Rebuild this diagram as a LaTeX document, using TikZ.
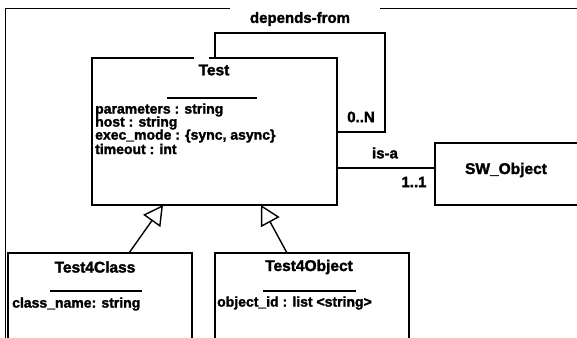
\documentclass[tikz,border=0pt]{standalone}
\usepackage{fontspec}
\setmainfont{Liberation Sans}[BoldFeatures={FakeBold=1.8}]
\usetikzlibrary{arrows.meta,calc}
\tikzset{
  frameline/.style={line width=1pt},
  cls/.style={draw, line width=1.5pt, inner sep=0pt, outer sep=0pt},
  ttl/.style={font=\fontsize{15.5}{15.5}\selectfont\bfseries, inner sep=0pt},
  attr/.style={font=\fontsize{14}{14}\selectfont\bfseries, inner sep=0pt, anchor=west},
  lbl/.style={font=\fontsize{15}{15}\selectfont\bfseries, inner sep=0pt},
  divider/.style={line width=1.8pt},
  conn/.style={line width=1.4pt},
  inh/.style={line width=1.4pt, -{Triangle[open, length=13pt, width=14pt, fill=white, scale=1.5]}},
}
\begin{document}
\begin{tikzpicture}[x=1pt,y=-1pt]
\useasboundingbox (0,0) rectangle (577,337);
% frame
\draw[frameline] (230,9) -- (5,9) -- (5,345);
\draw[frameline] (380,9) -- (590,9);
\node[lbl] (dep) at (300,19) {depends-from};
% classes
\node[cls, minimum width=245pt, minimum height=147pt] (Test) at (214.5,131.5) {};
\node[cls, minimum width=143pt, minimum height=62pt] (SW) at (506.5,174) {};
\node[cls, minimum width=184pt, minimum height=107pt] (T4C) at (100,306.5) {};
\node[cls, minimum width=194pt, minimum height=107pt] (T4O) at (312,306.5) {};
\draw[white, line width=2pt] (194,58) -- (209,58);
% Test content
\node[ttl] (tT) at (214,70) {Test};
\coordinate (tDa) at (167,98); \coordinate (tDb) at (257,98);
\draw[divider] (tDa) -- (tDb);
\node[attr] (a1) at (95,110) {parameters : string};
\node[attr] (a2) at (95,123) {host : string};
\node[attr] (a3) at (95,136) {exec\_mode : \{sync, async\}};
\node[attr] (a4) at (95,149) {timeout : int};
% SW_Object
\node[ttl] (swT) at (506,170) {SW\_Object};
% Test4Class
\node[ttl] (cT) at (95,267) {Test4Class};
\coordinate (cDa) at (50,291); \coordinate (cDb) at (142,291);
\draw[divider] (cDa) -- (cDb);
\node[attr] (c1) at (12,304) {class\_name: string};
% Test4Object
\node[ttl] (oT) at (309,267) {Test4Object};
\coordinate (oDa) at (263,291); \coordinate (oDb) at (356,291);
\draw[divider] (oDa) -- (oDb);
\node[attr] (o1) at (217,303) {object\_id : list <string>};
% self association
\coordinate (lp1) at (385,33);
\coordinate (lp2) at (385,132);
\draw[conn] ([xshift=0.5pt]Test.north) |- (lp1) -- (lp2) -- (lp2 -| Test.east);
\node[lbl] (zn) at (361,117) {0..N};
% is-a
\coordinate (isa) at (0,168);
\draw[conn] (Test.east |- isa) -- (SW.west |- isa);
\node[lbl] (isaL) at (385,153) {is-a};
\node[lbl] (one) at (414,182) {1..1};
% inheritance
\draw[inh] ([xshift=29pt]T4C.north) -- ([xshift=-51.5pt]Test.south);
\draw[inh] ([xshift=-25pt]T4O.north) -- ([xshift=46.5pt]Test.south);
\end{tikzpicture}
\end{document}
